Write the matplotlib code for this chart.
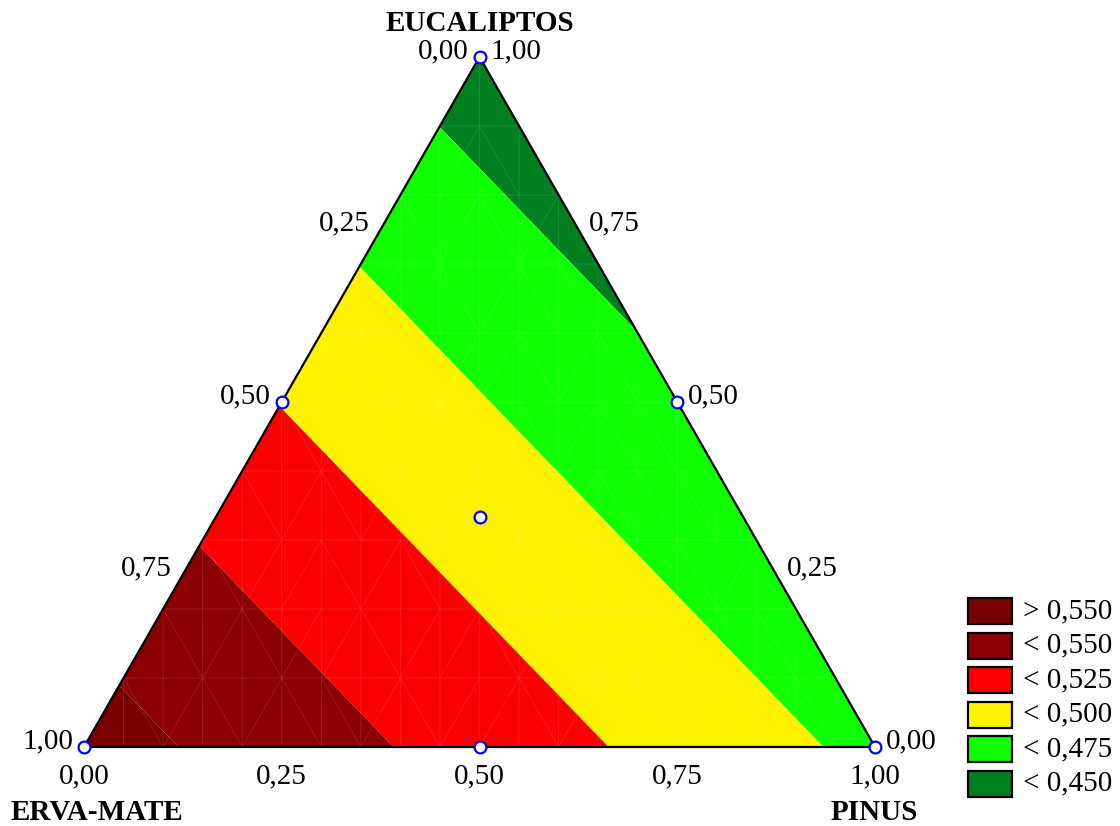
import numpy as np
import matplotlib
matplotlib.use('Agg')
import matplotlib.pyplot as plt
import matplotlib.tri as mtri
from matplotlib.patches import Polygon, Rectangle

plt.rcParams['font.family'] = ['Liberation Serif', 'DejaVu Serif']

# mixture design points (fractions of each component)
erva = [1.0, 0.0, 0.0, 0.5, 0.5, 0.0, 1/3]
pinus = [0.0, 1.0, 0.0, 0.5, 0.0, 0.5, 1/3]
euc = [0.0, 0.0, 1.0, 0.0, 0.5, 0.5, 1/3]

# linear mixture model coefficients (response at pure components)
coef_erva = 0.561
coef_pinus = 0.469
coef_euc = 0.4375

levels = [0.0, 0.450, 0.475, 0.500, 0.525, 0.550, 1.0]
band_colors = ['#008020', '#10FF00', '#FFF200', '#FA0000', '#8B0000', '#7A0000']
legend_labels = ['> 0,550', '< 0,550', '< 0,525', '< 0,500', '< 0,475', '< 0,450']
legend_colors = ['#7A0000', '#8B0000', '#FA0000', '#FFF200', '#10FF00', '#008020']

tick_values = [0.0, 0.25, 0.5, 0.75, 1.0]
tick_labels = ['0,00', '0,25', '0,50', '0,75', '1,00']

H = 690 / 791   # height of the triangle (side = 1)
PX = 791.0      # pixels per unit


def to_xy(e, p, u):
    e, p, u = np.asarray(e), np.asarray(p), np.asarray(u)
    return p + u / 2, u * H


def px(xp, yp):
    # pixel position in the picture -> data coords (layout only)
    return (xp - 84) / PX, (747 - yp) / PX


fig = plt.figure(figsize=(11.2, 8.26), dpi=100)
ax = fig.add_axes([0, 0, 1, 1])
ax.set_xlim(-84 / PX, (1120 - 84) / PX)
ax.set_ylim(-(826 - 747) / PX, 747 / PX)
ax.axis('off')

corners = np.array([to_xy(1, 0, 0), to_xy(0, 1, 0), to_xy(0, 0, 1)])
tri_patch = Polygon(corners, closed=True, transform=ax.transData)

# response surface
gx, gy = np.meshgrid(np.linspace(-0.01, 1.01, 600), np.linspace(-0.01, H + 0.01, 600))
gu = gy / H
gp = gx - gu / 2
ge = 1 - gp - gu
z = coef_erva * ge + coef_pinus * gp + coef_euc * gu
cs = ax.contourf(gx, gy, z, levels=levels, colors=band_colors, antialiased=True)
cs.set_clip_path(tri_patch)

# faint mesh of the surface
mx, my = [], []
for j in range(11):
    for i in range(j, 21 - j):
        mx.append(i / 20)
        my.append(j * H / 10)
mesh = mtri.Triangulation(mx, my)
ax.triplot(mesh, color='white', lw=0.5, alpha=0.14)

ax.add_patch(Polygon(corners, closed=True, fill=False, ec='black', lw=1.6, zorder=5))

# design points
dx, dy = to_xy(erva, pinus, euc)
ax.plot(dx, dy, 'o', ms=8.5, mfc='white', mec='#0000FF', mew=1.6, zorder=6, clip_on=False)

fs = 21
for v, lab in zip(tick_values, tick_labels):
    # left edge: ERVA-MATE fraction
    x, y = to_xy(v, 0, 1 - v)
    ax.text(x - 11 / PX, y + 6 / PX, lab, ha='right', va='center', fontsize=fs)
    # right edge: EUCALIPTOS fraction
    x, y = to_xy(0, 1 - v, v)
    ax.text(x + 11 / PX, y + 6 / PX, lab, ha='left', va='center', fontsize=fs)
    # bottom edge: PINUS fraction
    x, y = to_xy(1 - v, v, 0)
    ax.text(x, y - 29 / PX, lab, ha='center', va='center', fontsize=fs)

ax.text(*px(480, 23), 'EUCALIPTOS', ha='center', va='center', fontsize=fs, fontweight='bold')
ax.text(*px(97, 812), 'ERVA-MATE', ha='center', va='center', fontsize=fs, fontweight='bold')
ax.text(*px(874, 812), 'PINUS', ha='center', va='center', fontsize=fs, fontweight='bold')

# legend
for k, (lab, col) in enumerate(zip(legend_labels, legend_colors)):
    top = 598 + 34.5 * k
    x0, y0 = px(968, top + 26)
    ax.add_patch(Rectangle((x0, y0), 44 / PX, 26 / PX, fc=col, ec='black', lw=1.6, clip_on=False))
    ax.text(*px(1023, top + 13), lab, ha='left', va='center', fontsize=fs)

fig.savefig('out.png', dpi=100)
